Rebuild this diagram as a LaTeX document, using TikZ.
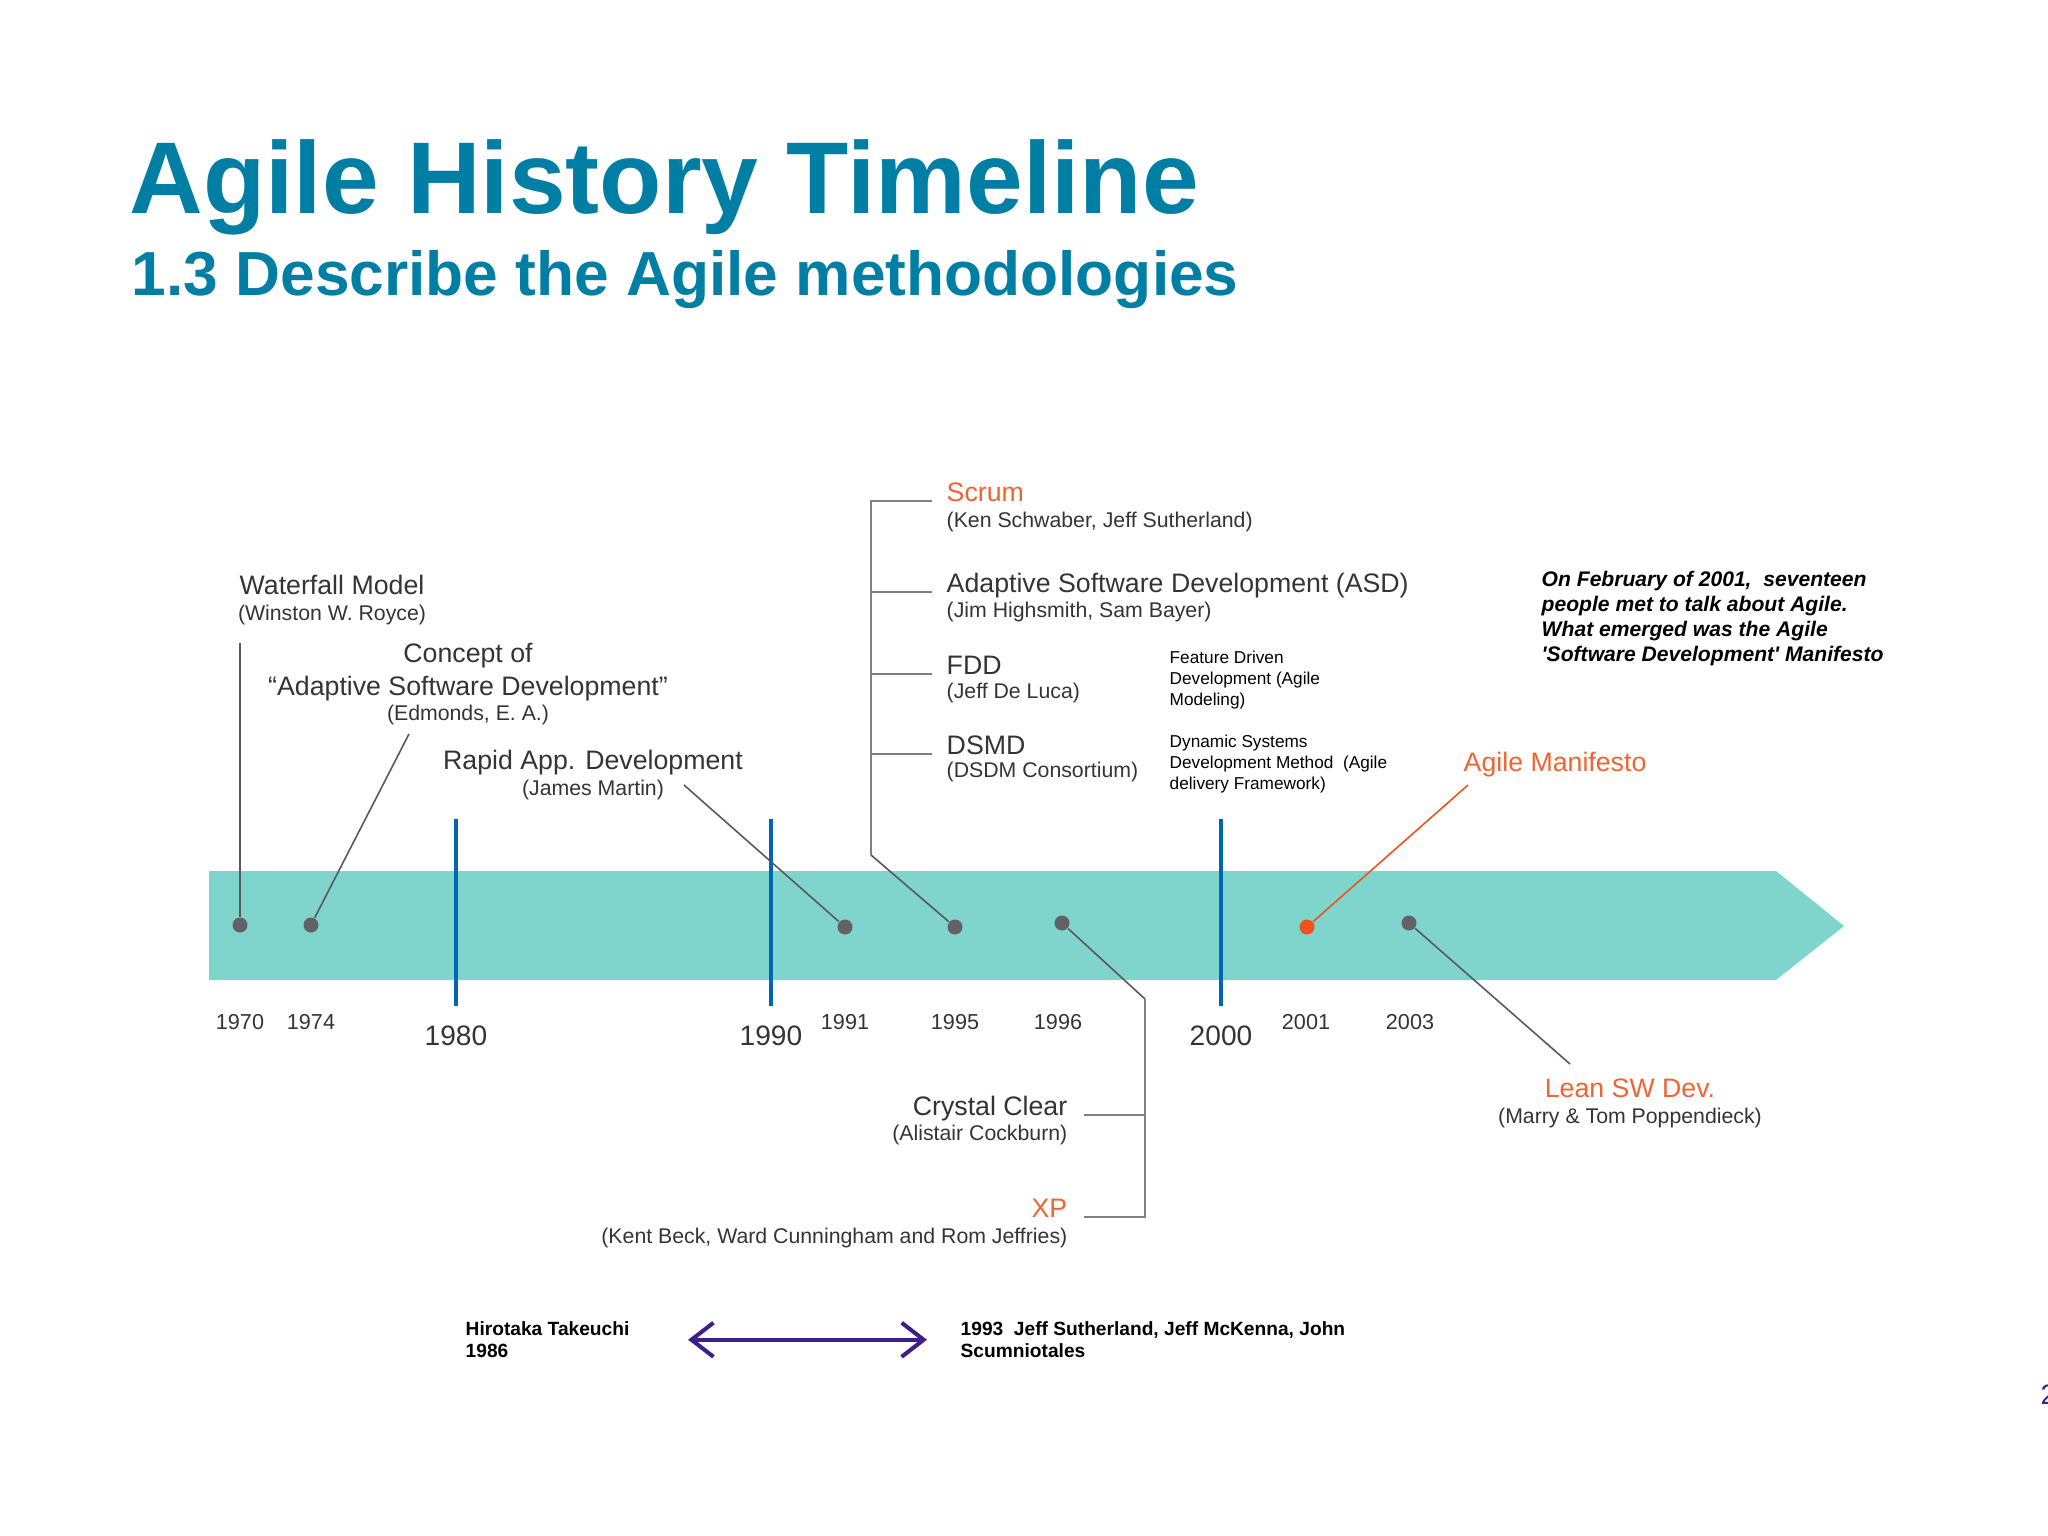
\documentclass[tikz,border=0pt]{standalone}
\usepackage{fontspec}
\setmainfont{Liberation Sans}
\usetikzlibrary{positioning}
\usetikzlibrary{arrows.meta}
\definecolor{headteal}{RGB}{0,126,163}
\definecolor{bandteal}{RGB}{127,212,203}
\definecolor{decblue}{RGB}{0,102,179}
\definecolor{dotgray}{RGB}{98,98,100}
\definecolor{leadgray}{RGB}{88,88,90}
\definecolor{brackgray}{RGB}{128,128,128}
\definecolor{labelgray}{RGB}{52,52,52}
\definecolor{hotorange}{RGB}{240,100,50}
\definecolor{dotorange}{RGB}{240,82,30}
\definecolor{spanviolet}{RGB}{60,30,140}
\tikzset{heading/.style={inner sep=0pt, text=headteal, font=\fontsize{29}{34}\selectfont\bfseries},
  subheading/.style={inner sep=0pt, text=headteal, font=\fontsize{17.7}{21}\selectfont\bfseries},
  lbl/.style={inner sep=0pt, text=labelgray, font=\fontsize{7.6}{9}\selectfont},
  hot/.style={lbl, text=hotorange},
  who/.style={inner sep=0pt, text=labelgray, font=\fontsize{6.05}{7}\selectfont},
  note/.style={inner sep=0pt, align=left, font=\fontsize{4.9}{5.95}\selectfont},
  story/.style={inner sep=0pt, align=left, font=\fontsize{6}{7.2}\selectfont\bfseries\itshape},
  eratext/.style={inner sep=0pt, align=left, font=\fontsize{5.45}{6.26}\selectfont\bfseries},
  yr/.style={inner sep=0pt, anchor=base, text=labelgray, font=\fontsize{6.15}{7}\selectfont},
  bigyr/.style={inner sep=0pt, anchor=base, text=labelgray, font=\fontsize{8}{9}\selectfont},
  band/.style={fill=bandteal},
  decade/.style={draw=decblue, line width=1.4pt},
  dot/.style={circle, fill=dotgray, inner sep=0pt, minimum size=1.5mm},
  lead/.style={draw=leadgray, line width=0.45pt},
  bracket/.style={draw=brackgray, line width=0.6pt},
  span/.style={draw=spanviolet, line width=1.15pt, {Straight Barb[length=2.2mm,width=3.4mm]}-{Straight Barb[length=2.2mm,width=3.4mm]}},
  pagenum/.style={inner sep=0pt, text=spanviolet, font=\fontsize{8}{9}\selectfont}}

\begin{document}
\begin{tikzpicture}[x=0.01cm, y=-0.01cm]
  \useasboundingbox (0,0) rectangle (2048,1536);
  \node[heading, anchor=base west] (title) at (129,213) {Agile History Timeline};
  \node[subheading, anchor=base west] (subtitle) at (131,295) {1.3 Describe the Agile methodologies};

  % the timeline
  \fill[band] (209,871) -- (1776,871) -- (1844,926) -- (1776,980) -- (209,980) -- cycle;
  \foreach \yr/\x in {1980/456, 1990/771, 2000/1221}{
    \draw[decade] (\x,819) -- (\x,1006);
    \node[bigyr] (y\yr) at (\x,1045) {\yr};
  }
  \foreach \yr/\x/\y in {1970/240/925, 1974/311/925, 1991/845/927, 1995/955/927, 1996/1062/923, 2003/1409/923}{
    \node[dot] (d\yr) at (\x,\y) {};
  }
  \node[dot, fill=dotorange] (d2001) at (1307,927) {};
  \foreach \yr/\x in {1970/240, 1974/311, 1991/845, 1995/955, 1996/1058, 2001/1306, 2003/1410}{
    \node[yr] (y\yr) at (\x,1029) {\yr};
  }

  % left labels
  \node[lbl, anchor=base] (wf) at (332,594) {Waterfall Model};
  \node[who, anchor=base] (wfwho) at (332,620) {(Winston W. Royce)};
  \node[lbl, anchor=base] (concept) at (468,662) {Concept of};
  \node[lbl, anchor=base] (asdq) at (468,695) {“Adaptive Software Development”};
  \node[who, anchor=base] (edm) at (468,720) {(Edmonds, E. A.)};
  \node[lbl, anchor=base] (rad) at (593,769) {Rapid App. Development};
  \node[who, anchor=base] (radwho) at (593,795) {(James Martin)};
  \coordinate (wfend) at (240,643);
  \coordinate (edmend) at (409,734);
  \coordinate (radend) at (684,785);
  \draw[lead] (wfend) -- (d1970);
  \draw[lead] (edmend) -- (d1974);
  \draw[lead] (radend) -- (d1991);

  % the 1995 group
  \node[hot, anchor=base west] (scrum) at (946,501) {Scrum};
  \node[who, anchor=base west] (scrumwho) at (946,527) {(Ken Schwaber, Jeff Sutherland)};
  \node[lbl, anchor=base west] (asd) at (946,592) {Adaptive Software Development (ASD)};
  \node[who, anchor=base west] (asdwho) at (946,617) {(Jim Highsmith, Sam Bayer)};
  \node[lbl, anchor=base west] (fdd) at (946,674) {FDD};
  \node[who, anchor=base west] (fddwho) at (946,698) {(Jeff De Luca)};
  \node[lbl, anchor=base west] (dsmd) at (946,754) {DSMD};
  \node[who, anchor=base west] (dsmdwho) at (946,777) {(DSDM Consortium)};
  \node[note, anchor=north west] (fddnote) at (1169,650) {Feature Driven\\Development (Agile\\Modeling)};
  \node[note, anchor=north west] (dsmdnote) at (1169,734) {Dynamic Systems\\Development Method\ \ (Agile\\delivery Framework)};
  \coordinate (bx) at (871,0);
  \coordinate (bfoot) at (871,855);
  \draw[bracket] ([xshift=-0.14cm]scrum.base west) -- (bx |- scrum.base) -- (bfoot);
  \foreach \n in {asd, fdd, dsmd}
    \draw[bracket] ([xshift=-0.14cm]\n.base west) -- (bx |- \n.base);
  \draw[lead] (bfoot) -- (d1995);

  % the 1996 group
  \node[lbl, anchor=base east] (crystal) at (1068,1115) {Crystal Clear};
  \node[who, anchor=base east] (crystalwho) at (1068,1140) {(Alistair Cockburn)};
  \node[hot, anchor=base east] (xp) at (1068,1217) {XP};
  \node[who, anchor=base east] (xpwho) at (1068,1243) {(Kent Beck, Ward Cunningham and Rom Jeffries)};
  \coordinate (cx) at (1145,0);
  \coordinate (chead) at (1145,999);
  \draw[lead] (d1996) -- (chead);
  \draw[bracket] (chead) -- (cx |- xp.base) -- ([xshift=0.16cm]xp.base east);
  \draw[bracket] (cx |- crystal.base) -- ([xshift=0.16cm]crystal.base east);

  % 2001 and 2003
  \node[story, anchor=north west] (story) at (1541,570) {On February of 2001,\ \ seventeen\\people met to talk about Agile.\\What emerged was the Agile\\\textquotesingle Software Development\textquotesingle\ Manifesto};
  \node[hot, anchor=base west] (manif) at (1463,771) {Agile Manifesto};
  \coordinate (manifend) at (1468,785);
  \draw[lead, draw=dotorange] (manifend) -- (d2001);
  \node[hot, anchor=base] (lean) at (1630,1097) {Lean SW Dev.};
  \node[who, anchor=base] (leanwho) at (1630,1123) {(Marry \& Tom Poppendieck)};
  \coordinate (leanend) at (1570,1064);
  \draw[lead] (d2003) -- (leanend);

  % bottom line
  \node[eratext, anchor=north west] (hiro) at (465,1321) {Hirotaka Takeuchi\\1986};
  \node[eratext, anchor=north west] (jeff) at (960,1321) {1993\ \ Jeff Sutherland, Jeff McKenna, John\\Scumniotales};
  \draw[span, shorten <=0.58cm, shorten >=0.33cm] (hiro.east) -- (jeff.west);
  \node[pagenum, anchor=base west] (pg) at (2040,1404) {2};
\end{tikzpicture}
\end{document}
